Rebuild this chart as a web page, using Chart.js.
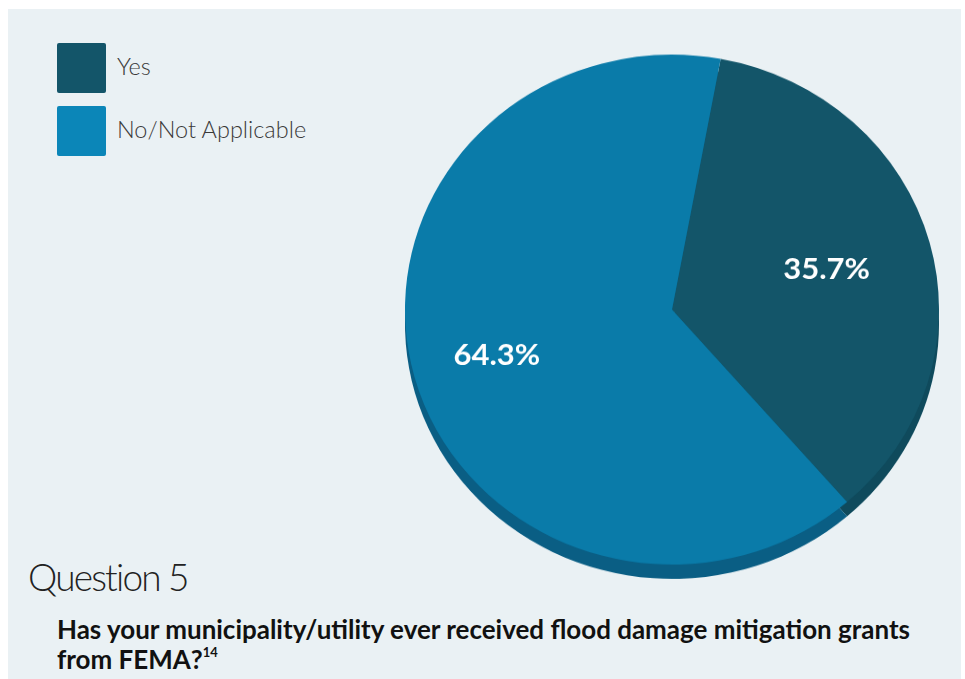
<!DOCTYPE html>
<html>
<head>
<meta charset="utf-8">
<script src="https://cdn.jsdelivr.net/npm/chart.js@4/dist/chart.umd.min.js"></script>
<style>
  html, body { margin: 0; padding: 0; background: #ffffff; width: 965px; height: 679px; overflow: hidden; }
  #panel { position: absolute; left: 8px; top: 9px; width: 953px; height: 670px; background: #eaf1f4; }
  #wrap { position: absolute; left: 395px; top: 45px; width: 554px; height: 574px; transform: scaleY(0.955); transform-origin: 0 0; }
  .leg { position: absolute; left: 57px; width: 49px; height: 50px; border-radius: 2px; }
  .legtxt { position: absolute; left: 117px; font-family: Lato, "Open Sans", sans-serif; font-weight: 300; font-size: 23.5px; color: #3a3a3a; white-space: nowrap; }
  #q { position: absolute; left: 28px; top: 554px; font-family: Lato, sans-serif; font-weight: 300; font-size: 37px; color: #222; white-space: nowrap; letter-spacing: -1.8px; }
  .qt { position: absolute; left: 57px; font-family: Lato, sans-serif; font-weight: 700; font-size: 26px; color: #111; white-space: nowrap; transform-origin: 0 0; }
  sup { font-size: 13px; vertical-align: 12px; }
</style>
</head>
<body>
<div id="panel"></div>
<div id="leg0" class="leg" style="top:43px;"></div>
<div id="legt0" class="legtxt" style="top:52px;"></div>
<div id="leg1" class="leg" style="top:106px;"></div>
<div id="legt1" class="legtxt" style="top:115px;"></div>
<div id="wrap"><canvas id="c"></canvas></div>
<div id="q">Question 5</div>
<div id="q1" class="qt" style="top:613px;">Has your municipality/utility ever received flood damage mitigation grants</div>
<div id="q2" class="qt" style="top:643px;">from FEMA?<sup>14</sup></div>
<script>
const categories = ["Yes", "No/Not Applicable"];
const values = [35.7, 64.3];
const valueLabels = ["35.7%", "64.3%"];
const colors = ["#135569", "#0a7ba9"];
const legendColors = ["#135569", "#0b86b8"];
const rimColors = ["#0f4a5c", "#0a5e84"];

categories.forEach((c, i) => {
  document.getElementById('leg' + i).style.background = legendColors[i];
  document.getElementById('legt' + i).textContent = c;
});

// fit condensed question text
(function(){
  const q1 = document.getElementById('q1');
  const w = q1.getBoundingClientRect().width;
  const s = 853 / w;
  q1.style.transform = 'scaleX(' + s + ')';
  document.getElementById('q2').style.transform = 'scaleX(' + s + ')';
})();

const rimPlugin = {
  id: 'rim',
  beforeDatasetsDraw(chart) {
    const meta = chart.getDatasetMeta(0);
    const ctx = chart.ctx;
    const off = 15;
    ctx.save();
    meta.data.forEach((arc, i) => {
      ctx.beginPath();
      ctx.moveTo(arc.x, arc.y + off);
      ctx.arc(arc.x, arc.y + off, arc.outerRadius, arc.startAngle, arc.endAngle);
      ctx.closePath();
      ctx.fillStyle = rimColors[i];
      ctx.fill();
    });
    ctx.restore();
  }
};

const labelPlugin = {
  id: 'valLabels',
  afterDatasetsDraw(chart, args, opts) {
    const meta = chart.getDatasetMeta(0);
    const ctx = chart.ctx;
    ctx.save();
    ctx.fillStyle = '#ffffff';
    ctx.font = 'bold 31px Lato, "Open Sans", sans-serif';
    ctx.textAlign = 'center';
    ctx.textBaseline = 'middle';
    meta.data.forEach((arc, i) => {
      const mid = (arc.startAngle + arc.endAngle) / 2;
      const r = arc.outerRadius * opts.factors[i];
      ctx.fillText(valueLabels[i], arc.x + Math.cos(mid) * r, arc.y + Math.sin(mid) * r);
    });
    ctx.restore();
  }
};

new Chart(document.getElementById('c'), {
  type: 'pie',
  data: {
    labels: categories,
    datasets: [{
      data: values,
      backgroundColor: colors,
      borderWidth: 0,
      hoverOffset: 0
    }]
  },
  options: {
    responsive: true,
    maintainAspectRatio: false,
    animation: false,
    rotation: 10.5,
    layout: { padding: { left: 10, right: 10, top: 10, bottom: 30 } },
    plugins: {
      legend: { display: false },
      tooltip: { enabled: false },
      valLabels: { factors: [0.60, 0.68] }
    }
  },
  plugins: [rimPlugin, labelPlugin]
});
</script>
</body>
</html>
